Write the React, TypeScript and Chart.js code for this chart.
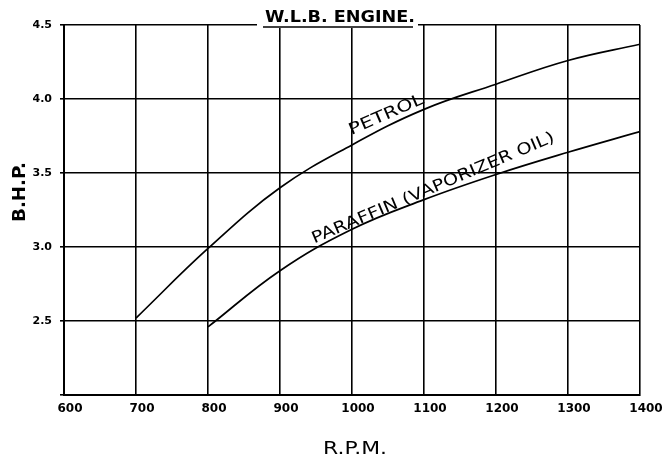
import React, { useEffect, useRef } from 'react';
import { Chart, registerables } from 'chart.js';

Chart.register(...registerables);

const rpmTicks = [600, 700, 800, 900, 1000, 1100, 1200, 1300, 1400];
const bhpTicks = [2.0, 2.5, 3.0, 3.5, 4.0, 4.5];
const petrolRpm = [700, 800, 900, 1000, 1100, 1200, 1300, 1400];
const petrolBhp = [2.52, 2.99, 3.4, 3.69, 3.93, 4.1, 4.26, 4.37];
const paraffinRpm = [800, 900, 1000, 1100, 1200, 1300, 1400];
const paraffinBhp = [2.46, 2.84, 3.12, 3.32, 3.49, 3.64, 3.78];
const chartTitle = 'W.L.B. ENGINE.';
const xTitle = 'R.P.M.';
const yTitle = 'B.H.P.';
const petrolLabel = 'PETROL';
const paraffinLabel = 'PARAFFIN (VAPORIZER OIL)';

const FONT = '"DejaVu Sans", "Liberation Sans", sans-serif';

function drawFitted(ctx: CanvasRenderingContext2D, text: string, x: number, y: number, angle: number, font: string, width: number) {
  ctx.save();
  ctx.translate(x, y);
  ctx.rotate(angle);
  ctx.font = font;
  const w = ctx.measureText(text).width;
  ctx.scale(width / w, 1);
  ctx.textAlign = 'center';
  ctx.textBaseline = 'alphabetic';
  ctx.fillStyle = '#000';
  ctx.fillText(text, 0, 0);
  ctx.restore();
}

const decorPlugin = {
  id: 'decor',
  afterDraw(chart: any) {
    const ctx: CanvasRenderingContext2D = chart.ctx;
    const xs = chart.scales.x;
    const ys = chart.scales.y;
    const area = chart.chartArea;
    const mid = (area.left + area.right) / 2;
    const cx = mid - 12;
    ctx.save();
    ctx.fillStyle = '#fff';
    ctx.fillRect(cx - 83, area.top - 3, 161, 6);
    ctx.restore();
    drawFitted(ctx, chartTitle, cx, area.top - 3, 0, `bold 16px ${FONT}`, 150);
    ctx.save();
    ctx.strokeStyle = '#000';
    ctx.lineWidth = 1.6;
    ctx.beginPath();
    ctx.moveTo(cx - 77, area.top + 2);
    ctx.lineTo(cx + 73, area.top + 2);
    ctx.stroke();
    ctx.restore();
    drawFitted(ctx, xTitle, mid + 3, 454, 0, `17px ${FONT}`, 64);
    drawFitted(ctx, yTitle, 25, 192, -Math.PI / 2, `bold 17px ${FONT}`, 60);
    drawFitted(ctx, petrolLabel, xs.getPixelForValue(1050), ys.getPixelForValue(3.865), -23.5 * Math.PI / 180, `16px ${FONT}`, 80);
    drawFitted(ctx, paraffinLabel, xs.getPixelForValue(1115), ys.getPixelForValue(3.37), -23 * Math.PI / 180, `16px ${FONT}`, 262);
  },
};

export default function App() {
  const ref = useRef<HTMLCanvasElement | null>(null);
  useEffect(() => {
    if (!ref.current) return;
    const chart = new Chart(ref.current, {
      type: 'line',
      data: {
        datasets: [
          {
            label: petrolLabel,
            data: petrolRpm.map((r, i) => ({ x: r, y: petrolBhp[i] })),
            borderColor: '#000',
            borderWidth: 1.7,
            pointRadius: 0,
            tension: 0.4,
            fill: false,
          },
          {
            label: paraffinLabel,
            data: paraffinRpm.map((r, i) => ({ x: r, y: paraffinBhp[i] })),
            borderColor: '#000',
            borderWidth: 1.7,
            pointRadius: 0,
            tension: 0.4,
            fill: false,
          },
        ],
      },
      options: {
        animation: false,
        responsive: false,
        layout: { padding: { left: 0, right: 29, top: 25, bottom: 0 } },
        plugins: { legend: { display: false }, tooltip: { enabled: false }, title: { display: false } },
        scales: {
          x: {
            type: 'linear',
            min: rpmTicks[0],
            max: rpmTicks[rpmTicks.length - 1],
            afterBuildTicks: (s: any) => { s.ticks = rpmTicks.map((v) => ({ value: v })); },
            afterFit: (s: any) => { s.height = 64; },
            grid: { color: '#000', lineWidth: 1.6, drawTicks: false },
            border: { color: '#000', width: 2 },
            ticks: {
              color: '#000',
              padding: 7,
              labelOffset: 6,
              font: { family: FONT, size: 12, weight: 'bold' },
              callback: (v: any) => String(v),
              maxRotation: 0,
            },
          },
          y: {
            type: 'linear',
            min: bhpTicks[0],
            max: bhpTicks[bhpTicks.length - 1],
            afterBuildTicks: (s: any) => { s.ticks = bhpTicks.map((v) => ({ value: v })); },
            afterFit: (s: any) => { s.width = 64; },
            grid: { color: '#000', lineWidth: 1.6, drawTicks: true, tickLength: 4 },
            border: { color: '#000', width: 2 },
            ticks: {
              color: '#000',
              padding: 8,
              font: { family: FONT, size: 11, weight: 'bold' },
              callback: (v: any) => (v === 2 ? '' : Number(v).toFixed(1)),
            },
          },
        },
      },
      plugins: [decorPlugin],
    } as any);
    return () => chart.destroy();
  }, []);
  return (
    <div style={{ position: 'fixed', left: 0, top: 0, width: 669, height: 459, background: '#fff' }}>
      <canvas ref={ref} width={669} height={459} style={{ display: 'block' }} />
    </div>
  );
}
